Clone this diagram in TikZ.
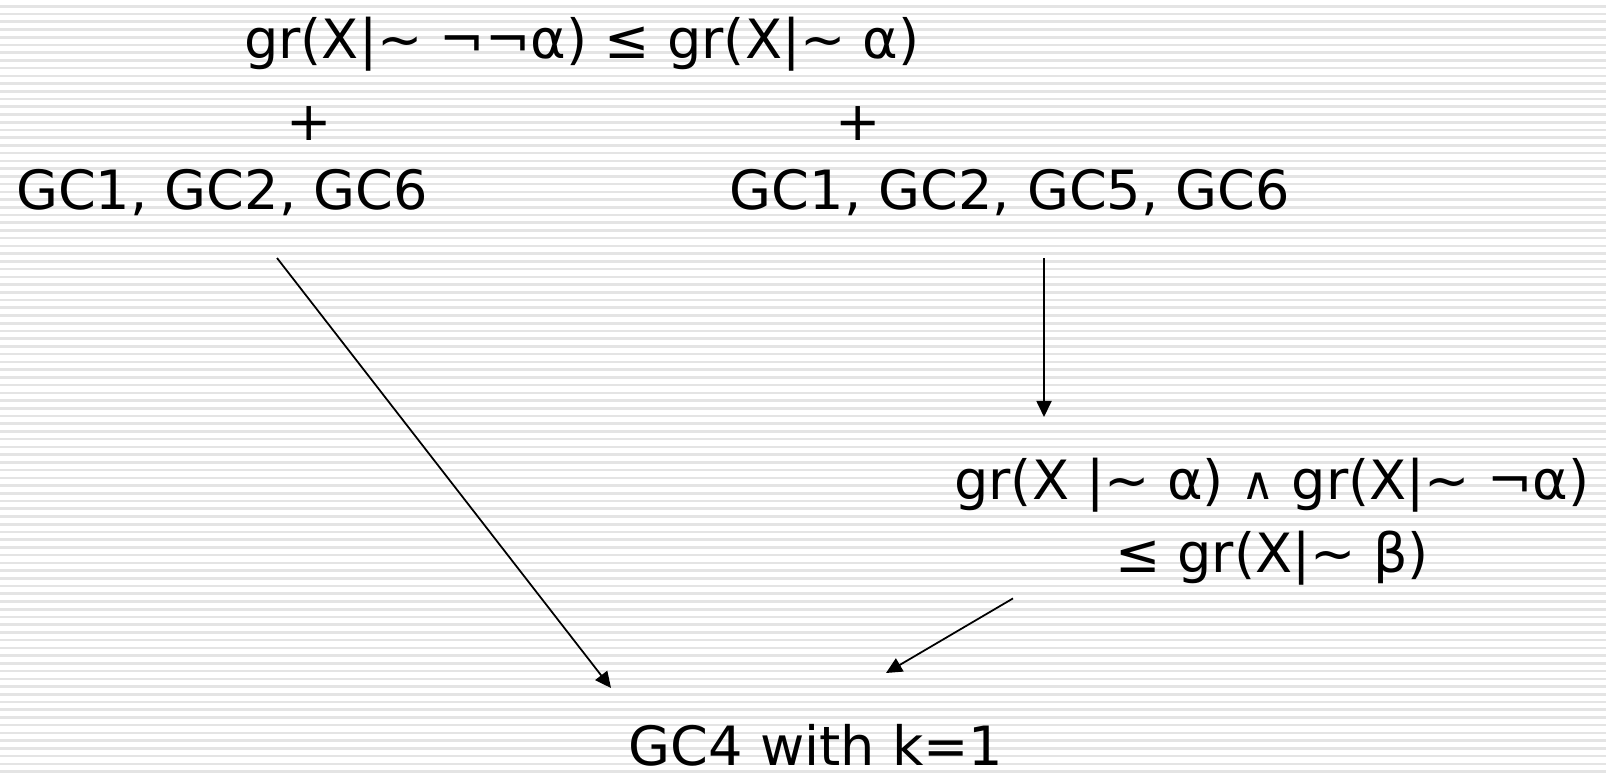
\documentclass[tikz,border=0pt]{standalone}
\usepackage{fontspec}
\setmainfont{DejaVu Sans}
\usepackage{tikz}
\usetikzlibrary{positioning, arrows.meta, calc}
\definecolor{stripe}{HTML}{E4E4E4}

\begin{document}
\begin{tikzpicture}[x=0.01cm, y=-0.01cm,
  txt/.style={inner sep=0pt, font=\fontsize{15.4pt}{21pt}\selectfont},
  arr/.style={-{Triangle[length=0.16cm, width=0.15cm]}, line width=0.5pt}]
\useasboundingbox (0,0) rectangle (1606,776);
\fill[white] (0,0) rectangle (1606,776);
% striped background
\foreach \i in {0,...,100}
  \fill[stripe] (0,{5+\i*7.73}) rectangle (1606,{7.6+\i*7.73});

\node[txt, anchor=base] (top) at (582,59) {gr(X|∼ ¬¬α) ≤ gr(X|∼ α)};
\node[txt] (plusl) at (309,124) {+};
\node[txt] (plusr) at (858,124) {+};
\node[txt, anchor=base] (gcl) at (222,210) {GC1, GC2, GC6};
\node[txt, anchor=base] (gcr) at (1010,210) {GC1, GC2, GC5, GC6};
\node[txt, anchor=north, align=center] (conj) at (1272,457)
  {gr(X |∼ α) {\fontsize{13pt}{0pt}\selectfont ∧} gr(X|∼ ¬α)\\ ≤ gr(X|∼ β)};
\node[txt, anchor=base] (res) at (816,765) {GC4 with k=1};

% connectors
\draw[arr] ($(gcl.base)+(55,48)$) -- ($(res.base)+(-205,-77)$);
\draw[arr] ($(gcr.base)+(34,48)$) -- ($(conj.north)+(-228,-40)$);
\draw[arr] ($(conj.south)+(-259,12)$) -- ($(res.base)+(70,-92)$);
\end{tikzpicture}
\end{document}
